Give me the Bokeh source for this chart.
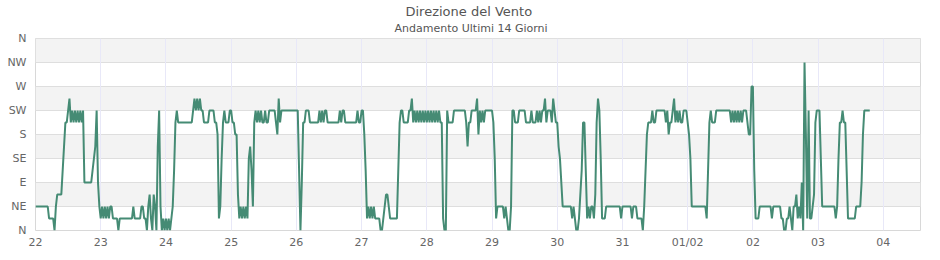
from bokeh.plotting import figure
from bokeh.models import FixedTicker, Title, Range1d, ColumnDataSource
from bokeh.embed import file_html
from bokeh.resources import INLINE

title_text = "Direzione del Vento"
subtitle_text = "Andamento Ultimi 14 Giorni"
sector_labels = ["N", "NE", "E", "SE", "S", "SW", "W", "NW", "N"]
sector_ticks = [0, 45, 90, 135, 180, 225, 270, 315, 360]
day_labels = ["22", "23", "24", "25", "26", "27", "28", "29", "30", "31", "01/02", "02", "03", "04"]

# half-hourly wind direction, in 16-point compass sectors (1 sector = 22.5 deg)
d22 = [2, 2, 2, 2, 2, 2, 2, 2, 2, 2, 1, 1, 1, 1, 0, 2, 3, 3, 3, 3, 5, 7, 9, 9,
       10, 11, 9, 10, 9, 10, 9, 10, 9, 10, 9, 10, 4, 4, 4, 4, 4, 4, 5, 6, 7, 10, 4, 2]
d23 = [1, 2, 1, 2, 1, 2, 1, 2, 2, 1, 1, 1, 1, 0, 1, 1, 1, 1, 1, 1, 1, 1, 1, 1,
       2, 1, 1, 1, 1, 1, 2, 2, 1, 1, 0, 2, 3, 1, 0, 3, 2, 0, 7, 10, 2, 0, 1, 0]
d24 = [1, 0, 1, 0, 1, 2, 5, 9, 10, 9, 9, 9, 9, 9, 9, 9, 9, 9, 9, 9, 10, 11, 10, 11,
       10, 11, 10, 10, 9, 9, 9, 9, 10, 10, 10, 10, 9, 9, 8, 1, 2, 6, 9, 10, 9, 9, 9, 10]
d25 = [10, 9, 9, 8, 8, 3, 1, 2, 1, 2, 1, 2, 1, 6, 7, 5, 2, 9, 10, 9, 10, 9, 10, 9,
       9, 10, 9, 9, 10, 10, 10, 10, 10, 9, 8, 11, 9, 10, 10, 10, 10, 10, 10, 10, 10, 10, 10, 10]
d26 = [10, 10, 5, 0, 4, 9, 9, 10, 10, 10, 9, 9, 9, 9, 9, 9, 9, 10, 9, 10, 9, 10, 10, 9,
       9, 9, 9, 9, 9, 9, 9, 9, 10, 9, 10, 10, 9, 9, 9, 9, 9, 9, 9, 9, 9, 10, 9, 9]
d27 = [10, 10, 8, 5, 1, 2, 1, 2, 1, 2, 1, 1, 1, 1, 0, 0, 1, 2, 3, 3, 2, 1, 1, 1,
       1, 1, 1, 5, 9, 10, 10, 9, 9, 9, 9, 10, 10, 11, 9, 10, 9, 10, 9, 10, 9, 10, 9, 10]
d28 = [9, 10, 9, 10, 9, 10, 9, 10, 9, 10, 9, 9, 1, 0, 0, 10, 9, 9, 9, 9, 10, 10, 10, 10,
       10, 10, 10, 10, 10, 9, 7, 9, 9, 10, 10, 10, 10, 11, 8, 10, 9, 10, 9, 10, 10, 10, 10, 10]
d29 = [10, 9, 6, 1, 2, 2, 2, 2, 2, 1, 2, 1, 0, 0, 2, 10, 10, 9, 9, 9, 10, 10, 10, 10,
       10, 9, 9, 9, 9, 10, 9, 9, 9, 10, 9, 10, 9, 10, 10, 11, 9, 10, 10, 10, 9, 11, 10, 9]
d30 = [9, 7, 6, 4, 2, 2, 2, 2, 2, 2, 2, 1, 2, 1, 0, 0, 1, 3, 5, 9, 9, 5, 1, 2,
       1, 2, 2, 1, 3, 9, 11, 10, 6, 1, 1, 1, 2, 2, 2, 2, 2, 2, 2, 2, 2, 2, 2, 1]
d31 = [2, 2, 2, 2, 2, 2, 2, 1, 2, 2, 2, 1, 1, 1, 1, 0, 2, 5, 8, 9, 9, 9, 10, 9,
       9, 10, 10, 10, 10, 10, 10, 10, 9, 10, 8, 9, 9, 10, 11, 9, 10, 9, 10, 9, 9, 10, 10, 10]
d01 = [9, 8, 6, 2, 2, 2, 2, 2, 2, 2, 2, 2, 2, 2, 1, 5, 9, 10, 9, 9, 9, 10, 10, 10,
       10, 10, 10, 10, 10, 10, 10, 10, 9, 10, 9, 10, 9, 10, 9, 10, 9, 10, 10, 10, 9, 8, 8, 12]
d02 = [12, 5, 1, 1, 1, 2, 2, 2, 2, 2, 2, 2, 2, 2, 1, 2, 2, 2, 2, 2, 2, 1, 1, 0,
       0, 1, 1, 2, 1, 0, 2, 2, 3, 1, 2, 1, 4, 0, 14, 8, 1, 10, 1, 1, 2, 3, 9, 10]
d03 = [10, 10, 6, 2, 2, 2, 2, 2, 2, 2, 2, 2, 2, 1, 2, 6, 9, 9, 10, 9,
       9, 5, 1, 1, 1, 1, 1, 1, 2, 2, 2, 2, 4, 8, 10, 10, 10, 10, 10]

days = [d22, d23, d24, d25, d26, d27, d28, d29, d30, d31, d01, d02, d03]
sectors = [v for d in days for v in d]
src = ColumnDataSource(dict(
    x=[i / 48 for i in range(len(sectors))],
    y=[v * 22.5 for v in sectors],
))

FONT = "DejaVu Sans"

p = figure(width=940, height=260, output_backend="svg", toolbar_location=None,
           title=None, x_range=Range1d(0, 13.57), y_range=Range1d(0, 360),
           min_border_left=35, min_border_right=20, min_border_top=38, min_border_bottom=30)
p.background_fill_color = "#ffffff"
p.border_fill_color = "#ffffff"
p.outline_line_color = "#d8d8d8"

sub = Title(text=subtitle_text, align="left", text_font_size="11px", text_font_style="normal",
            text_color="#555555", text_font=FONT, standoff=7, offset=359)
main = Title(text=title_text, align="left", text_font_size="13px", text_font_style="normal",
             text_color="#555555", text_font=FONT, standoff=-5, offset=370)
p.add_layout(sub, "above")
p.add_layout(main, "above")

xg = p.xgrid[0]
yg = p.ygrid[0]
xg.ticker = FixedTicker(ticks=list(range(len(day_labels))))
xg.grid_line_color = "#e8e8f8"
yg.ticker = FixedTicker(ticks=sector_ticks)
yg.grid_line_color = "#dedede"
yg.band_fill_color = "#f3f3f3"
yg.band_fill_alpha = 1.0
p.center = [yg, xg]

p.xaxis.ticker = FixedTicker(ticks=list(range(len(day_labels))))
p.xaxis.major_label_overrides = {i: lab for i, lab in enumerate(day_labels)}
p.yaxis.ticker = FixedTicker(ticks=sector_ticks)
p.yaxis.major_label_overrides = {t: lab for t, lab in zip(sector_ticks, sector_labels)}
for ax in (p.xaxis[0], p.yaxis[0]):
    ax.axis_line_color = None
    ax.major_tick_line_color = None
    ax.minor_tick_line_color = None
    ax.major_tick_out = 0
    ax.major_tick_in = 0
    ax.major_label_text_font = FONT
    ax.major_label_text_font_size = "11px"
    ax.major_label_text_color = "#666666"
p.xaxis.major_label_standoff = 5
p.yaxis.major_label_standoff = 9

p.line("x", "y", source=src, line_color="#458B74", line_width=2)

open("out.html", "w").write(file_html(p, INLINE))
